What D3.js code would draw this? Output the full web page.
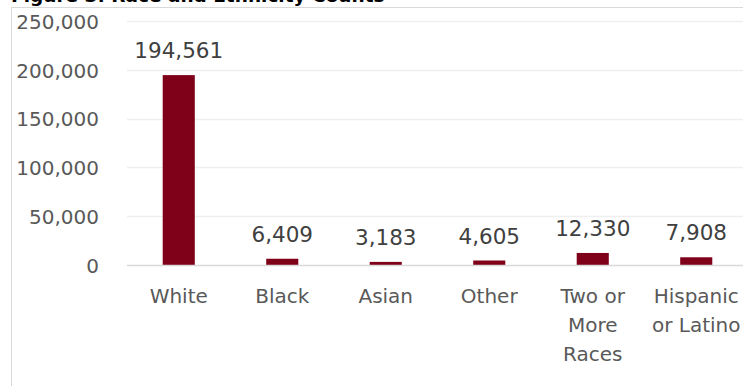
<!DOCTYPE html>
<html>
<head>
<meta charset="utf-8">
<script src="https://cdn.jsdelivr.net/npm/d3@7"></script>
<style>
  html, body { margin: 0; padding: 0; background: #fff; overflow: hidden; }
  svg { display: block; font-family: "DejaVu Sans", sans-serif; }
</style>
</head>
<body>
<svg id="chart" width="743" height="386"></svg>
<script>
// Race and ethnicity counts
const categories = ["White", "Black", "Asian", "Other", "Two or More Races", "Hispanic or Latino"];
const counts = [194561, 6409, 3183, 4605, 12330, 7908];
const yTicks = [0, 50000, 100000, 150000, 200000, 250000];
const title = "Figure 3: Race and Ethnicity Counts";

const W = 743, H = 386;
const svg = d3.select("#chart");

// Outer chart frame (extends past the right and bottom edges)
svg.append("rect")
  .attr("x", 11.5).attr("y", 7.5)
  .attr("width", 800).attr("height", 500)
  .attr("fill", "#fff").attr("stroke", "#d9d9d9").attr("stroke-width", 1);

// Title sits above the frame, running off the top edge
svg.append("text")
  .attr("x", 11).attr("y", 1.5)
  .attr("font-size", 18.5).attr("font-weight", "bold")
  .attr("fill", "#000")
  .text(title);

const plot = { left: 127, right: 748, top: 21, bottom: 265 };

const x = d3.scaleBand()
  .domain(categories)
  .range([plot.left, plot.right])
  .paddingInner(0.69).paddingOuter(0.345);

const y = d3.scaleLinear()
  .domain([0, 250000])
  .range([plot.bottom, plot.top]);

// Gridlines
svg.append("g")
  .selectAll("line")
  .data(yTicks.filter(d => d > 0))
  .join("line")
  .attr("x1", plot.left).attr("x2", W)
  .attr("y1", d => Math.round(y(d)) + 0.5).attr("y2", d => Math.round(y(d)) + 0.5)
  .attr("stroke", "#efefef").attr("stroke-width", 1.5);

// Y axis labels
const yAxis = d3.axisLeft(y)
  .tickValues(yTicks)
  .tickFormat(d3.format(","))
  .tickSize(0)
  .tickPadding(0);
const gy = svg.append("g")
  .attr("transform", `translate(99,0)`)
  .call(yAxis);
gy.select(".domain").remove();
gy.selectAll("text")
  .attr("font-size", 20)
  .attr("font-family", "DejaVu Sans, sans-serif")
  .attr("fill", "#595959")
  .attr("dy", "0.36em");

// Bars
svg.append("g")
  .selectAll("rect")
  .data(counts)
  .join("rect")
  .attr("x", (d, i) => x(categories[i]))
  .attr("width", x.bandwidth())
  .attr("y", d => y(d))
  .attr("height", d => y(0) - y(d))
  .attr("fill", "#7f0019");

// Baseline axis
svg.append("line")
  .attr("x1", plot.left).attr("x2", W)
  .attr("y1", y(0) + 0.5).attr("y2", y(0) + 0.5)
  .attr("stroke", "#d9d9d9").attr("stroke-width", 1.5);

// Value labels
svg.append("g")
  .selectAll("text")
  .data(counts)
  .join("text")
  .attr("x", (d, i) => x(categories[i]) + x.bandwidth() / 2)
  .attr("y", d => y(d) - 17)
  .attr("text-anchor", "middle")
  .attr("font-size", 21.5)
  .attr("fill", "#404040")
  .text(d => d3.format(",")(d));

// Category labels, wrapped to the band width
const catG = svg.append("g");
categories.forEach(cat => {
  const cx = x(cat) + x.bandwidth() / 2;
  const t = catG.append("text")
    .attr("x", cx).attr("y", 303)
    .attr("text-anchor", "middle")
    .attr("font-size", 20)
    .attr("fill", "#595959");
  const words = cat.split(" ");
  let line = [];
  let tspan = t.append("tspan").attr("x", cx).attr("dy", 0);
  words.forEach(w => {
    line.push(w);
    tspan.text(line.join(" "));
    if (tspan.node().getComputedTextLength() > 100 && line.length > 1) {
      line.pop();
      tspan.text(line.join(" "));
      line = [w];
      tspan = t.append("tspan").attr("x", cx).attr("dy", 29).text(w);
    }
  });
});
</script>
</body>
</html>
